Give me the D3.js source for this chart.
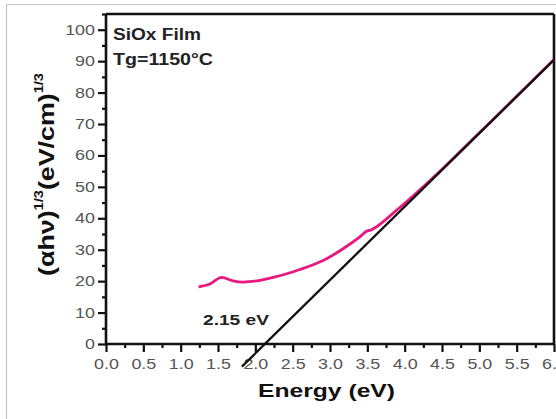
<!DOCTYPE html>
<html><head><meta charset="utf-8">
<script src="https://cdn.jsdelivr.net/npm/d3@7"></script>
<style>
html,body{margin:0;padding:0;background:#fff;}
svg{display:block;}
</style></head>
<body>
<script>
// Data
const energy = [1.24, 1.39, 1.55, 1.70, 1.84, 2.02, 2.24, 2.51, 2.73, 2.96, 3.18, 3.40, 3.50, 3.54, 3.63, 3.85, 4.07, 4.5, 5.0, 5.5, 6.0];
const absorb = [18.2, 19.1, 21.2, 20.1, 19.7, 20.1, 21.2, 23.0, 24.8, 27.2, 30.4, 34.1, 36.0, 36.2, 37.4, 41.7, 46.2, 55.6, 67.2, 78.8, 90.5];
const fitEnergy = [1.82, 6.0];
const fitValue = [-7.2, 90.4];
const xTicks = [0, 0.5, 1, 1.5, 2, 2.5, 3, 3.5, 4, 4.5, 5, 5.5, 6];
const xMinor = [0.25, 0.75, 1.25, 1.75, 2.25, 2.75, 3.25, 3.75, 4.25, 4.75, 5.25, 5.75];
const yTicks = [0, 10, 20, 30, 40, 50, 60, 70, 80, 90, 100];
const yMinor = [5, 15, 25, 35, 45, 55, 65, 75, 85, 95, 105];
const gapLabel = "2.15 eV";
const sampleLines = ["SiOx Film", "Tg=1150°C"];

const W = 556, H = 419;
const svg = d3.select("body").append("svg").attr("width", W).attr("height", H);

// outer light border (top and left)
svg.append("line").attr("x1", 6.5).attr("x2", W).attr("y1", 4.5).attr("y2", 4.5).attr("stroke", "#c4c4c4").attr("stroke-width", 1.2);
svg.append("line").attr("x1", 6.5).attr("x2", 6.5).attr("y1", 4.5).attr("y2", H).attr("stroke", "#c4c4c4").attr("stroke-width", 1.2);

const x = d3.scaleLinear().domain([0, 6]).range([106, 554]);
const y = d3.scaleLinear().domain([0, 105]).range([344, 14]);

const SX = 1.28;
// axes
const gx = svg.append("g").attr("transform", `translate(0,${y(0)})`);
gx.call(d3.axisBottom(x).tickValues(xTicks).tickFormat(d3.format(".1f")).tickSize(8).tickPadding(8));
gx.append("g").call(d3.axisBottom(x).tickValues(xMinor).tickFormat("").tickSize(4));
const gy = svg.append("g").attr("transform", `translate(${x(0)},0)`);
gy.call(d3.axisLeft(y).tickValues(yTicks).tickFormat(d3.format("d")).tickSize(8).tickPadding(3));
gy.append("g").call(d3.axisLeft(y).tickValues(yMinor).tickFormat("").tickSize(4));

svg.selectAll(".domain").remove();
svg.selectAll(".tick line").attr("stroke", "#111").attr("stroke-width", 2.2);
gx.selectAll(".tick text").attr("font-family", "Liberation Sans, Arial, sans-serif").attr("font-size", 14)
  .attr("fill", "#555").attr("dy", "0.72em").attr("y", 15).attr("transform", `scale(${SX},1)`);
gy.selectAll(".tick text").attr("font-family", "Liberation Sans, Arial, sans-serif").attr("font-size", 14)
  .attr("fill", "#555").attr("x", -11 / SX).attr("transform", `scale(${SX},1)`);

// frame
const fr = svg.append("g").attr("stroke", "#111").attr("stroke-width", 2.6).attr("fill", "none");
fr.append("line").attr("x1", x(0)).attr("x2", x(0)).attr("y1", y(105)).attr("y2", y(0));
fr.append("line").attr("x1", x(0)).attr("x2", x(6)).attr("y1", y(0)).attr("y2", y(0));
fr.append("line").attr("x1", x(0)).attr("x2", x(6)).attr("y1", y(105)).attr("y2", y(105));
fr.append("line").attr("x1", x(6)).attr("x2", x(6)).attr("y1", y(105)).attr("y2", y(0));

// data curve
const pts = energy.map((e, i) => [e, absorb[i]]);
const line = d3.line().x(d => x(d[0])).y(d => y(d[1])).curve(d3.curveMonotoneX);
svg.append("path").datum(pts).attr("d", line).attr("fill", "none").attr("stroke", "#e8187f").attr("stroke-width", 2.8);

// linear fit
const fitPts = fitEnergy.map((e, i) => [e, fitValue[i]]);
svg.append("path").datum(fitPts).attr("d", d3.line().x(d => x(d[0])).y(d => y(d[1])))
  .attr("fill", "none").attr("stroke", "#111").attr("stroke-width", 2.3);

// texts
const ff = "Liberation Sans, Arial, sans-serif";
svg.append("text").attr("x", 113).attr("y", 40).text(sampleLines[0]).attr("font-family", ff).attr("font-weight", "bold")
  .attr("font-size", 16).attr("fill", "#222").attr("textLength", 88).attr("lengthAdjust", "spacingAndGlyphs");
svg.append("text").attr("x", 113).attr("y", 65).text(sampleLines[1]).attr("font-family", ff).attr("font-weight", "bold")
  .attr("font-size", 16).attr("fill", "#222").attr("textLength", 100).attr("lengthAdjust", "spacingAndGlyphs");
svg.append("text").attr("x", 203).attr("y", 325).text(gapLabel).attr("font-family", ff).attr("font-weight", "bold")
  .attr("font-size", 15).attr("fill", "#222").attr("textLength", 66).attr("lengthAdjust", "spacingAndGlyphs");
svg.append("text").attr("x", 258).attr("y", 397).text("Energy (eV)").attr("font-family", ff).attr("font-weight", "bold")
  .attr("font-size", 19).attr("fill", "#111").attr("textLength", 137).attr("lengthAdjust", "spacingAndGlyphs");

const yl = svg.append("text").attr("transform", "translate(54,276) rotate(-90)").attr("font-family", ff)
  .attr("font-weight", "bold").attr("font-size", 22).attr("fill", "#111")
  .attr("textLength", 203).attr("lengthAdjust", "spacingAndGlyphs");
yl.append("tspan").text("(αhν)");
yl.append("tspan").attr("font-size", 12).attr("dy", -11).text("1/3");
yl.append("tspan").attr("dy", 11).text("(eV/cm)");
yl.append("tspan").attr("font-size", 12).attr("dy", -11).text("1/3");
</script>
</body></html>
